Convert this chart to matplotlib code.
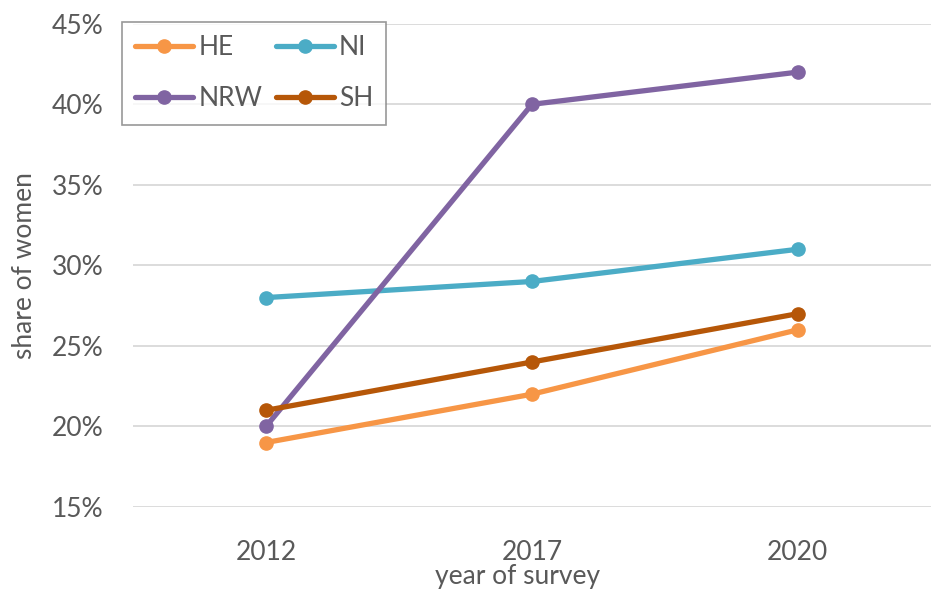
import numpy as np
import matplotlib.pyplot as plt
from matplotlib.ticker import FuncFormatter

years = ['2012', '2017', '2020']
he = [19, 22, 26]
ni = [28, 29, 31]
nrw = [20, 40, 42]
sh = [21, 24, 27]

plt.rcParams['font.family'] = ['Lato', 'DejaVu Sans']
grey = '#595959'

fig = plt.figure(figsize=(9.44, 5.95), dpi=100)
ax = fig.add_axes([0.141, 0.148, 0.845, 0.812])

x = np.arange(len(years))
series = [('HE', he, '#F79646'), ('NI', ni, '#4BACC6'),
          ('NRW', nrw, '#8064A2'), ('SH', sh, '#B65708')]
lines = {}
for name, vals, col in series:
    lines[name], = ax.plot(x, vals, '-o', color=col, lw=3.8, ms=9.5,
                           label=name, solid_capstyle='round')

ax.set_xlim(-0.5, 2.5)
ax.set_ylim(15, 45)
ax.set_yticks(np.arange(15, 46, 5))
ax.yaxis.set_major_formatter(FuncFormatter(lambda v, p: '%d%%' % v))
ax.set_xticks(x)
ax.set_xticklabels(years)
ax.grid(axis='y', color='#D9D9D9', lw=1.3)
ax.set_axisbelow(True)
for s in ax.spines.values():
    s.set_visible(False)
ax.tick_params(length=0, labelsize=19, colors=grey)
ax.tick_params(axis='y', pad=21)
ax.tick_params(axis='x', pad=24)
ax.set_ylabel('share of women', fontsize=19, color=grey)
ax.set_xlabel('year of survey', fontsize=19, color=grey)
ax.yaxis.set_label_coords(-0.12, 0.5)
ax.xaxis.set_label_coords(0.482, -0.118)

# row-wise order like the original: HE NI / NRW SH
order = ['HE', 'NRW', 'NI', 'SH']
leg = ax.legend([lines[k] for k in order], order, ncol=2, loc='upper left',
                bbox_to_anchor=(-0.014, 1.004), borderaxespad=0,
                fontsize=19, frameon=True, fancybox=False, handlelength=2.2,
                columnspacing=0.5, handletextpad=0.2, borderpad=0.5,
                labelspacing=1.0, labelcolor=grey)
leg.get_frame().set_edgecolor('#7F7F7F')
leg.get_frame().set_linewidth(1.2)

fig.savefig('out.png', dpi=100)
